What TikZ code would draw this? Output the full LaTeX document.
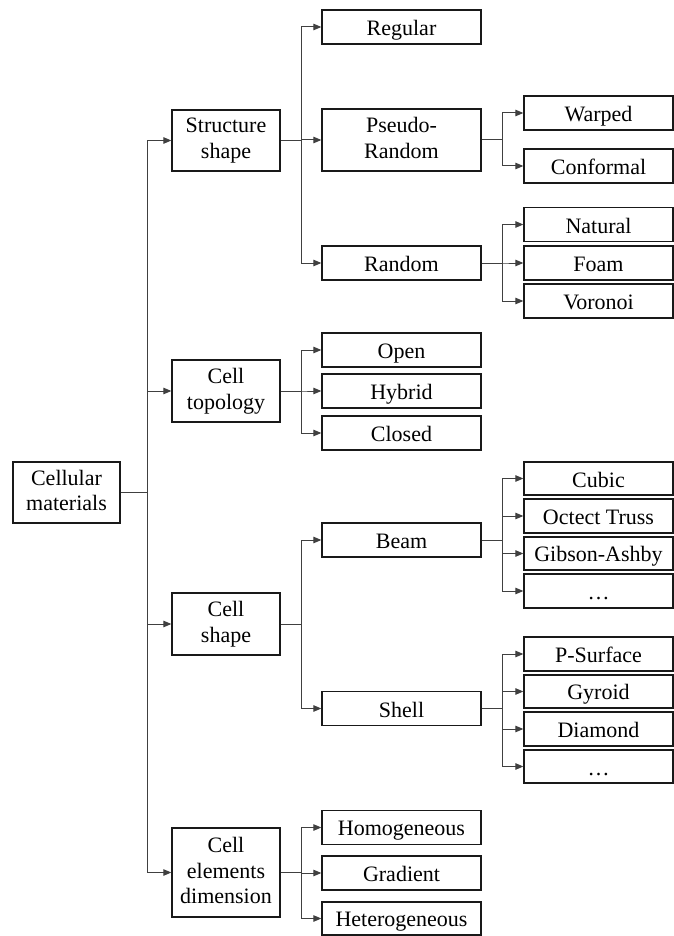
\documentclass[tikz,border=0pt]{standalone}
\usepackage{fontspec}
\setmainfont{Liberation Serif}
\usetikzlibrary{arrows.meta}
\newcommand\boxstrut{\rule[-4pt]{0pt}{25pt}}
\begin{document}
\begin{tikzpicture}[x=1pt,y=-1pt,
  box/.style={draw=black!90, line width=1.3pt, inner sep=0pt, align=center,
    font=\fontsize{22}{25.5}\selectfont, minimum height=34pt,
    execute at begin node=\boxstrut, execute at end node=\boxstrut},
  lone/.style={box, minimum width=108pt},
  ltwo/.style={box, minimum width=159pt},
  lthree/.style={box, minimum width=149pt},
  conn/.style={draw=black!75, line width=1pt},
  arr/.style={conn, -{Triangle[length=8pt,width=6.5pt]}}]
\useasboundingbox (0,0) rectangle (673,936);
% root
\node[box, minimum width=107pt, minimum height=61pt] (cm) at (66.5,492.5) {Cellular\\materials};
% level 1
\node[lone, minimum height=61pt] (ss) at (226,140.5) {Structure\\shape};
\node[lone, minimum height=62pt] (ct) at (226,391) {Cell\\topology};
\node[lone, minimum height=62pt] (cs) at (226,624) {Cell\\shape};
\node[lone, minimum height=89pt] (ced) at (226,872.5) {Cell\\elements\\dimension};
% level 2
\node[ltwo] (reg) at (401.5,27) {Regular};
\node[ltwo, minimum height=62pt] (pr) at (401.5,140) {Pseudo-\\Random};
\node[ltwo] (rnd) at (401.5,263) {Random};
\node[ltwo] (open) at (401.5,350) {Open};
\node[ltwo] (hyb) at (401.5,391) {Hybrid};
\node[ltwo] (clo) at (401.5,433) {Closed};
\node[ltwo] (beam) at (401.5,540) {Beam};
\node[ltwo] (shell) at (401.5,708.5) {Shell};
\node[ltwo] (homo) at (401.5,827.5) {Homogeneous};
\node[ltwo] (grad) at (401.5,873) {Gradient};
\node[ltwo, minimum height=33pt] (het) at (401.5,918.5) {Heterogeneous};
% level 3
\node[lthree] (warp) at (598.5,113) {Warped};
\node[lthree] (conf) at (598.5,166) {Conformal};
\node[lthree] (nat) at (598.5,224.5) {Natural};
\node[lthree] (foam) at (598.5,263) {Foam};
\node[lthree] (vor) at (598.5,301) {Voronoi};
\node[lthree, minimum height=33pt] (cub) at (598.5,478.5) {Cubic};
\node[lthree] (oct) at (598.5,516) {Octect Truss};
\node[lthree, minimum height=33pt] (gib) at (598.5,553.5) {Gibson-Ashby};
\node[lthree] (bdots) at (598.5,591) {\dots};
\node[lthree] (psurf) at (598.5,654) {P-Surface};
\node[lthree, minimum height=33pt] (gyr) at (598.5,691.5) {Gyroid};
\node[lthree] (dia) at (598.5,729) {Diamond};
\node[lthree, minimum height=33pt] (sdots) at (598.5,766.5) {\dots};
% vertical rails
\coordinate (va) at (147,0);
\coordinate (vb) at (301,0);
\coordinate (vc) at (502,0);
% root to level 1
\foreach \c in {ss,ct,cs,ced}
  \draw[arr] (cm.east) -- (va |- cm.east) |- (\c.west);
% level 1 to level 2
\foreach \p/\c in {ss/reg,ss/pr,ss/rnd,ct/open,ct/hyb,ct/clo,cs/beam,cs/shell,ced/homo,ced/grad,ced/het}
  \draw[arr] (\p.east) -- (vb |- \p.east) |- (\c.west);
% level 2 to level 3
\foreach \p/\c in {pr/warp,pr/conf,rnd/nat,rnd/foam,rnd/vor,beam/cub,beam/oct,beam/gib,beam/bdots,shell/psurf,shell/gyr,shell/dia,shell/sdots}
  \draw[arr] (\p.east) -- (vc |- \p.east) |- (\c.west);
\end{tikzpicture}
\end{document}
